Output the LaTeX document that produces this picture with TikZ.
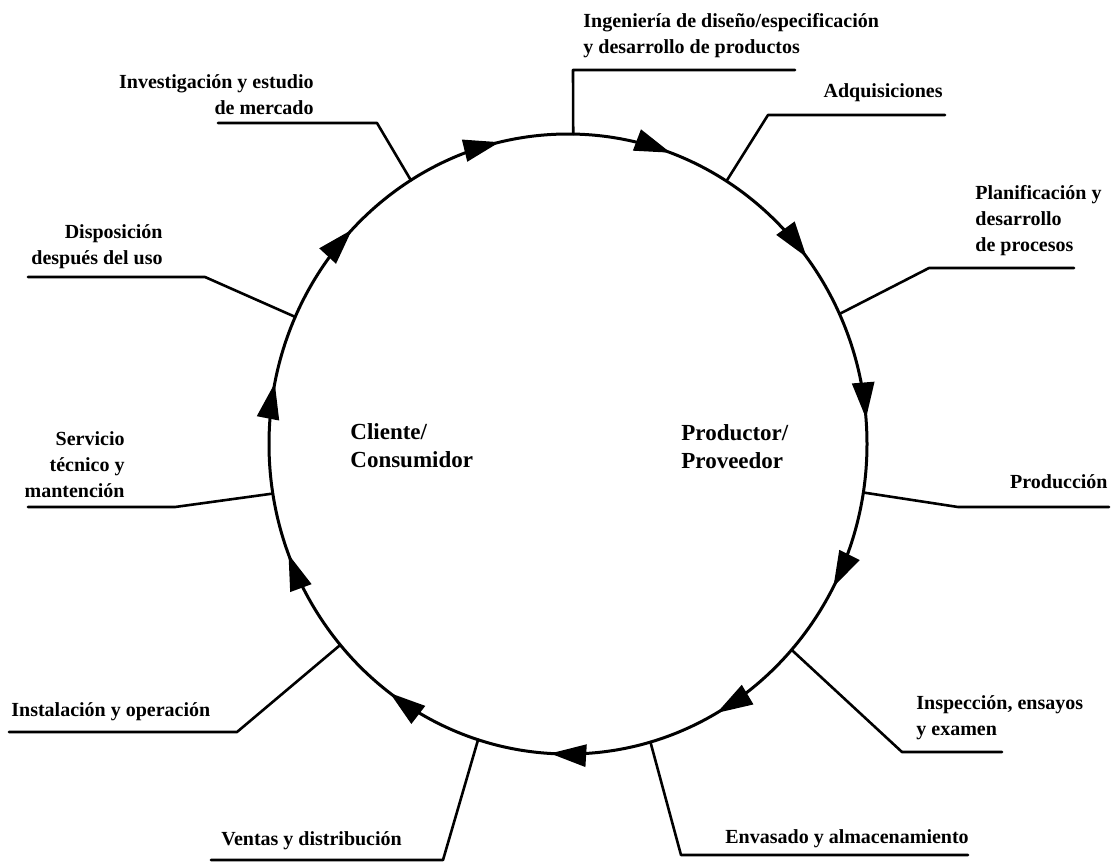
\documentclass[tikz,border=0pt]{standalone}
\usepackage{fontspec}
\setmainfont{Liberation Serif}
\usetikzlibrary{arrows.meta,decorations.markings}

\begin{document}
\begin{tikzpicture}[line cap=round,line join=round,x=0.5pt,y=-0.5pt,
	etiqueta/.style={font=\fontsize{10pt}{13pt}\selectfont\bfseries,inner sep=0pt},
	central/.style={font=\fontsize{11.5pt}{14pt}\selectfont\bfseries,inner sep=0pt,align=left},
	guia/.style={line width=1.3pt},
	circulo/.style={line width=1.5pt}]
		% Marco
		\useasboundingbox (0,0) rectangle (1114,863);
		
		% Centro
		\coordinate (c) at (568,444);
		
		% Ciclo con flechas
		\draw[circulo,postaction={decorate},decoration={markings,
			mark=between positions 0.0775 and 0.99 step 0.090909 with {\arrow{Triangle[length=18pt,width=11pt]}}}]
			(c) ellipse [x radius=299, y radius=310];
		
		% Textos del centro
		\node[central,anchor=base west] (cli) at (350,467) {Cliente/\\Consumidor};
		\node[central,anchor=base west] (pro) at (681,468) {Productor/\\Proveedor};
		
		% Etapas
		\node[etiqueta,align=left,anchor=base west] (ing) at (583,53) {Ingeniería de diseño/especificación\\y desarrollo de productos};
		\node[etiqueta,anchor=base east] (adq) at (943,97) {Adquisiciones};
		\node[etiqueta,align=left,anchor=base west] (pla) at (975,251) {Planificación y\\desarrollo\\de procesos};
		\node[etiqueta,anchor=base east] (prd) at (1108,488) {Producción};
		\node[etiqueta,align=left,anchor=base west] (ins) at (916,735) {Inspección, ensayos\\y examen};
		\node[etiqueta,anchor=base west] (env) at (725,843) {Envasado y almacenamiento};
		\node[etiqueta,anchor=base west] (ven) at (221,845) {Ventas y distribución};
		\node[etiqueta,anchor=base west] (ist) at (11,716) {Instalación y operación};
		\node[etiqueta,align=right,anchor=base east] (ser) at (125,497) {Servicio\\técnico y\\mantención};
		\node[etiqueta,align=right,anchor=base east] (dis) at (163,264) {Disposición\\después del uso};
		\node[etiqueta,align=right,anchor=base east] (inv) at (314,114) {Investigación y estudio\\de mercado};
		
		% Lineas guia: punto en el ciclo, quiebre, extremo
		\foreach \i/\a/\bx/\by/\ex in {1/-89/573/70/795, 2/-58/768/115/945, 3/-24.8/929/268/1074,
			4/9/958/507/1109, 5/41.6/902/752/1002, 6/74/681/855/968, 7/107.5/443/860/211,
			8/139.6/237/732/9, 9/170.8/175/507/28, 10/204.2/205/277/28, 11/238.3/377/123/218}{
			\coordinate (m\i) at ([shift={(c)}]\a:299 and 310);
			\coordinate (b\i) at (\bx,\by);
			\coordinate (e\i) at (\ex,\by);
			\draw[guia] (m\i) -- (b\i) -- (e\i);
		}
	\end{tikzpicture}
\end{document}
